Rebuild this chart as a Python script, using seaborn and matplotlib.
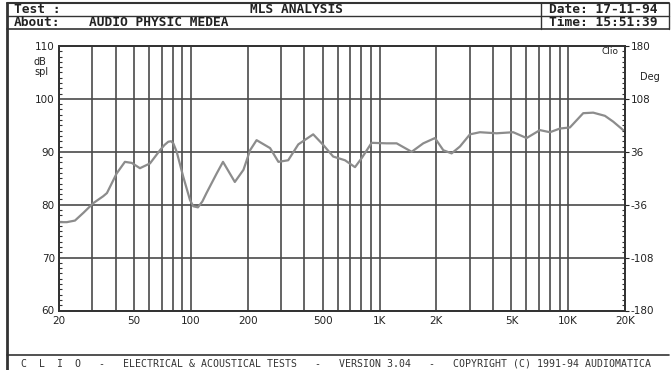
import numpy as np
import pandas as pd
import seaborn as sns
import matplotlib
matplotlib.use('Agg')
import matplotlib.pyplot as plt
from matplotlib.ticker import FixedLocator, NullFormatter, NullLocator

# frequency response (Hz, dB spl)
freq = [20, 22, 24.3, 27, 30.4, 34.3, 35.9, 40.4, 44.7, 48.6, 53.7, 60.7, 68.6, 72.5,
        75.9, 78.5, 80.7, 84.1, 91.1, 98.9, 103, 109, 115, 121, 137, 148, 171, 190,
        206, 223, 263, 291, 328, 371, 445, 503, 568, 656, 741, 804, 908, 1090, 1232,
        1480, 1705, 1966, 2177, 2410, 2668, 3014, 3404, 4174, 5111, 6018, 7080,
        8000, 9038, 10210, 12010, 13572, 15652, 17320, 19568, 20000]
spl = [76.7, 76.7, 77.0, 78.5, 80.3, 81.6, 82.2, 85.9, 88.1, 87.9, 86.9, 87.8, 90.3, 91.3,
       91.9, 92.0, 91.6, 90.0, 85.3, 80.9, 79.7, 79.5, 80.6, 82.2, 85.9, 88.1, 84.3, 86.6,
       90.3, 92.2, 90.7, 88.1, 88.4, 91.4, 93.3, 91.3, 89.1, 88.4, 87.1, 88.8, 91.7, 91.6,
       91.6, 90.0, 91.6, 92.6, 90.3, 89.7, 91.0, 93.3, 93.7, 93.5, 93.7, 92.6, 94.1,
       93.7, 94.4, 94.6, 97.3, 97.4, 96.8, 95.7, 94.1, 94.0]

x_ticks = [20, 50, 100, 200, 500, 1000, 2000, 5000, 10000, 20000]
x_labels = ['20', '50', '100', '200', '500', '1K', '2K', '5K', '10K', '20K']
y_ticks = [60, 70, 80, 90, 100, 110]
deg_ticks = [-180, -108, -36, 36, 108, 180]

df = pd.DataFrame({'freq': freq, 'spl': spl})

sns.set_style('white')
plt.rcParams['font.family'] = ['DejaVu Sans']
plt.rcParams['axes.unicode_minus'] = False

fig = plt.figure(figsize=(6.71, 3.70), dpi=100)
ax = fig.add_axes([59 / 671, 1 - 310.5 / 370, 566 / 671, 264.5 / 370])

# grid lines: every 1..9 multiple on the log axis, every 10 dB
grid_x = [m * 10 ** e for e in range(1, 5) for m in range(1, 10) if 20 <= m * 10 ** e <= 20000]
for g in grid_x:
    ax.axvline(g, color='#4a4a4a', lw=1.2, zorder=1)
for g in y_ticks:
    ax.axhline(g, color='#4a4a4a', lw=1.2, zorder=1)

sns.lineplot(data=df, x='freq', y='spl', ax=ax, color='#8c8c8c', lw=1.6, zorder=3)

ax.set_xscale('log')
ax.set_xlim(20, 20000)
ax.set_ylim(60, 110)
ax.xaxis.set_major_locator(FixedLocator(x_ticks))
ax.set_xticklabels(x_labels)
ax.xaxis.set_minor_locator(NullLocator())
ax.xaxis.set_minor_formatter(NullFormatter())
ax.yaxis.set_major_locator(FixedLocator(y_ticks))
ax.yaxis.set_minor_locator(FixedLocator(np.arange(60, 111, 1)))
ax.set_xlabel('')
ax.set_ylabel('')
ax.tick_params(axis='x', which='major', direction='out', length=3, width=1,
               labelsize=7.5, pad=1, colors='#222222')
ax.tick_params(axis='y', which='major', direction='out', length=0, labelsize=7.5,
               pad=3, colors='#222222')
ax.tick_params(axis='y', which='minor', direction='in', length=2, width=0.8,
               color='#333333')
for s in ax.spines.values():
    s.set_color('#333333')
    s.set_linewidth(1.3)

ax2 = ax.twinx()
ax2.set_ylim(-180, 180)
ax2.yaxis.set_major_locator(FixedLocator(deg_ticks))
ax2.yaxis.set_minor_locator(FixedLocator(np.arange(-180, 181, 7.2)))
ax2.tick_params(axis='y', which='major', direction='out', length=3, labelsize=7.5,
                pad=1, colors='#222222')
ax2.tick_params(axis='y', which='minor', direction='in', length=2, width=0.8,
                color='#333333')
for s in ax2.spines.values():
    s.set_color('#333333')
    s.set_linewidth(1.3)

# axis captions
fig.text(34 / 671, 1 - 62 / 370, 'dB', fontsize=7, va='center', ha='left', color='#222222')
fig.text(34 / 671, 1 - 72 / 370, 'spl', fontsize=7, va='center', ha='left', color='#222222')
fig.text(640 / 671, 1 - 77 / 370, 'Deg', fontsize=7, va='center', ha='left', color='#222222')
fig.text(602 / 671, 1 - 51 / 370, 'Clio', fontsize=6.5, va='center', ha='left', color='#222222')

# header frame
mono = dict(family='DejaVu Sans Mono', fontweight='bold', fontsize=9.3, color='#222222',
            va='center')
lc = '#333333'
fig.add_artist(plt.Line2D([7 / 671, 7 / 671], [0, 1 - 3 / 370], color=lc, lw=2))
fig.add_artist(plt.Line2D([7 / 671, 669 / 671], [1 - 3 / 370, 1 - 3 / 370], color=lc, lw=1.5))
fig.add_artist(plt.Line2D([7 / 671, 669 / 671], [1 - 16 / 370, 1 - 16 / 370], color=lc, lw=1))
fig.add_artist(plt.Line2D([7 / 671, 669 / 671], [1 - 29 / 370, 1 - 29 / 370], color=lc, lw=1.2))
fig.add_artist(plt.Line2D([541 / 671, 541 / 671], [1 - 29 / 370, 1 - 3 / 370], color=lc, lw=1))
fig.add_artist(plt.Line2D([669 / 671, 669 / 671], [1 - 3 / 370, 1 - 29 / 370], color=lc, lw=1))
fig.text(14 / 671, 1 - 9.5 / 370, 'Test :', **mono)
fig.text(297 / 671, 1 - 9.5 / 370, 'MLS ANALYSIS', ha='center', **mono)
fig.text(14 / 671, 1 - 22.5 / 370, 'About:', **mono)
fig.text(89 / 671, 1 - 22.5 / 370, 'AUDIO PHYSIC MEDEA', **mono)
fig.text(549 / 671, 1 - 9.5 / 370, 'Date: 17-11-94', **mono)
fig.text(549 / 671, 1 - 22.5 / 370, 'Time: 15:51:39', **mono)

# footer
fig.add_artist(plt.Line2D([7 / 671, 669 / 671], [1 - 355 / 370, 1 - 355 / 370], color=lc, lw=1.2))
fig.text(336 / 671, 1 - 363 / 370,
         'C  L  I  O   -   ELECTRICAL & ACOUSTICAL TESTS   -   VERSION 3.04   -   COPYRIGHT (C) 1991-94 AUDIOMATICA',
         ha='center', va='center', family='DejaVu Sans Mono', fontsize=7.1, color='#333333')

fig.savefig('out.png', dpi=100)
